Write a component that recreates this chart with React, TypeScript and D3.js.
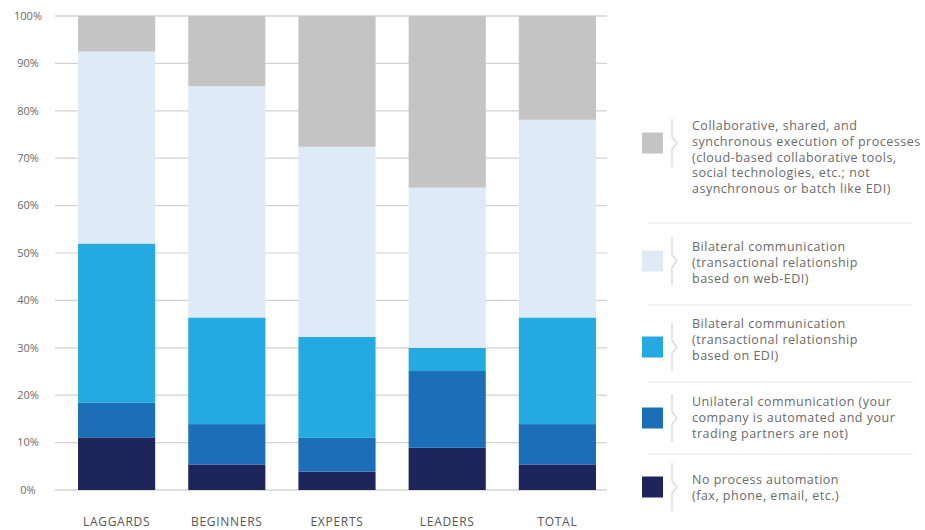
import React from "react";
import * as d3 from "d3";

const categories = ["LAGGARDS", "BEGINNERS", "EXPERTS", "LEADERS", "TOTAL"];
const noAutomation = [11.1, 5.4, 3.9, 8.9, 5.4];
const unilateral = [7.3, 8.5, 7.1, 16.2, 8.5];
const bilateralEDI = [33.6, 22.5, 21.3, 4.9, 22.5];
const bilateralWebEDI = [40.5, 48.8, 40.1, 33.8, 41.7];
const collaborative = [7.5, 14.8, 27.6, 36.2, 21.9];
const yTicks = [0, 10, 20, 30, 40, 50, 60, 70, 80, 90, 100];

const seriesKeys = ["none", "uni", "edi", "web", "collab"];
const seriesColors: Record<string, string> = {
  none: "#1d255a",
  uni: "#1b6fb8",
  edi: "#24a9e1",
  web: "#deebf7",
  collab: "#c4c4c4",
};

const legendItems = [
  {
    key: "collab",
    lines: [
      "Collaborative, shared, and",
      "synchronous execution of processes",
      "(cloud-based collaborative tools,",
      "social technologies, etc.; not",
      "asynchronous or batch like EDI)",
    ],
  },
  {
    key: "web",
    lines: ["Bilateral communication", "(transactional relationship", "based on web-EDI)"],
  },
  {
    key: "edi",
    lines: ["Bilateral communication", "(transactional relationship", "based on EDI)"],
  },
  {
    key: "uni",
    lines: ["Unilateral communication (your", "company is automated and your", "trading partners are not)"],
  },
  {
    key: "none",
    lines: ["No process automation", "(fax, phone, email, etc.)"],
  },
];

// layout constants
const W = 925;
const H = 530;
const swatchCenters = [143, 261, 347, 418, 487];
const textFirst = [126, 247, 324, 402, 480];
const separators = [223, 305, 382, 454];
const LINE_H = 15.6;
const FONT = "'Open Sans', 'DejaVu Sans', sans-serif";

export default function App() {
  const rows = categories.map((c, i) => ({
    cat: c,
    none: noAutomation[i],
    uni: unilateral[i],
    edi: bilateralEDI[i],
    web: bilateralWebEDI[i],
    collab: collaborative[i],
  }));
  const stacked = d3.stack<any>().keys(seriesKeys)(rows);

  const x = d3
    .scaleBand<string>()
    .domain(categories)
    .range([61.5, 612.5])
    .paddingInner(0.3)
    .paddingOuter(0.15);
  const y = d3.scaleLinear().domain([0, 100]).range([490, 16]);

  return (
    <svg
      width={W}
      height={H}
      style={{ position: "absolute", left: 0, top: 0, background: "#fff" }}
      fontFamily={FONT}
    >
      {yTicks.map((t) => (
        <g key={t}>
          <line x1={55} x2={607} y1={y(t)} y2={y(t)} stroke={t === 100 || t === 0 ? "#bdbdbd" : "#d2d2d2"} strokeWidth={1.2} />
          <text x={28} y={y(t)} dy="0.35em" textAnchor="middle" fontSize={11} fill="#6a6a6a">
            {t}%
          </text>
        </g>
      ))}
      {stacked.map((s) => (
        <g key={s.key} fill={seriesColors[s.key]}>
          {s.map((d, i) => (
            <rect
              key={i}
              x={x(categories[i])}
              width={x.bandwidth()}
              y={y(d[1])}
              height={Math.max(0, y(d[0]) - y(d[1]))}
            />
          ))}
        </g>
      ))}
      {categories.map((c) => (
        <text
          key={c}
          x={(x(c) as number) + x.bandwidth() / 2}
          y={526}
          textAnchor="middle"
          fontSize={12}
          letterSpacing={0.7}
          fill="#555"
        >
          {c}
        </text>
      ))}
      {separators.map((s, i) => (
        <line key={i} x1={648} x2={913} y1={s} y2={s} stroke="#e6e6e6" strokeWidth={1.2} />
      ))}
      {legendItems.map((it, i) => {
        const cy = swatchCenters[i];
        const top = cy - 24;
        const bot = Math.min(cy + 24, 528);
        return (
          <g key={it.key}>
            <rect x={642} y={cy - 10.5} width={21} height={21} fill={seriesColors[it.key]} />
            <path
              d={`M672,${top}V${cy - 6}L677,${cy}L672,${cy + 6}V${bot}`}
              fill="none"
              stroke="#d6d6d6"
              strokeWidth={1.2}
            />
            {it.lines.map((l, j) => (
              <text
                key={j}
                x={692}
                y={textFirst[i] + j * LINE_H}
                dy="0.35em"
                fontSize={12.5}
                letterSpacing={0.5}
                fill="#6a6a6a"
              >
                {l}
              </text>
            ))}
          </g>
        );
      })}
    </svg>
  );
}
